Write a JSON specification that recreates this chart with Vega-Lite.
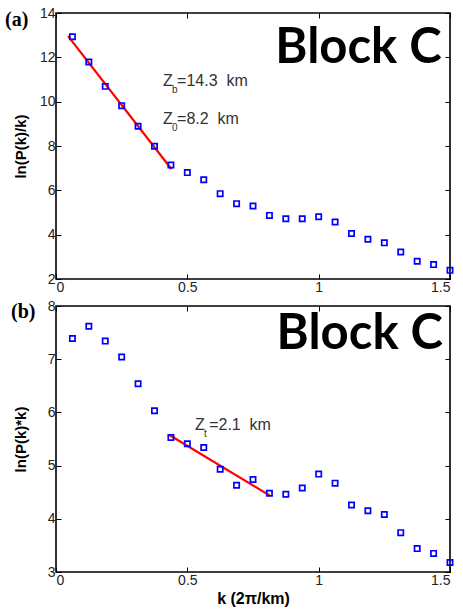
{
  "$schema": "https://vega.github.io/schema/vega-lite/v6.json",
  "padding": {"left": 4, "top": 5, "right": 3, "bottom": 4},
  "background": "white",
  "datasets": {
    "a_pts": [
      {"k": 0.0625, "v": 12.93}, {"k": 0.125, "v": 11.79}, {"k": 0.1875, "v": 10.69}, {"k": 0.25, "v": 9.82},
      {"k": 0.3125, "v": 8.89}, {"k": 0.375, "v": 7.99}, {"k": 0.4375, "v": 7.14}, {"k": 0.5, "v": 6.80},
      {"k": 0.5625, "v": 6.48}, {"k": 0.625, "v": 5.85}, {"k": 0.6875, "v": 5.40}, {"k": 0.75, "v": 5.29},
      {"k": 0.8125, "v": 4.87}, {"k": 0.875, "v": 4.72}, {"k": 0.9375, "v": 4.72}, {"k": 1.0, "v": 4.81},
      {"k": 1.0625, "v": 4.57}, {"k": 1.125, "v": 4.05}, {"k": 1.1875, "v": 3.79}, {"k": 1.25, "v": 3.63},
      {"k": 1.3125, "v": 3.22}, {"k": 1.375, "v": 2.80}, {"k": 1.4375, "v": 2.65}, {"k": 1.5, "v": 2.39}
    ],
    "a_fit": [{"k": 0.046, "v": 12.96}, {"k": 0.44, "v": 6.95}],
    "b_pts": [
      {"k": 0.0625, "v": 7.39}, {"k": 0.125, "v": 7.62}, {"k": 0.1875, "v": 7.34}, {"k": 0.25, "v": 7.04},
      {"k": 0.3125, "v": 6.54}, {"k": 0.375, "v": 6.03}, {"k": 0.4375, "v": 5.53}, {"k": 0.5, "v": 5.41},
      {"k": 0.5625, "v": 5.34}, {"k": 0.625, "v": 4.93}, {"k": 0.6875, "v": 4.63}, {"k": 0.75, "v": 4.74},
      {"k": 0.8125, "v": 4.48}, {"k": 0.875, "v": 4.46}, {"k": 0.9375, "v": 4.58}, {"k": 1.0, "v": 4.84},
      {"k": 1.0625, "v": 4.67}, {"k": 1.125, "v": 4.26}, {"k": 1.1875, "v": 4.15}, {"k": 1.25, "v": 4.08},
      {"k": 1.3125, "v": 3.74}, {"k": 1.375, "v": 3.44}, {"k": 1.4375, "v": 3.35}, {"k": 1.5, "v": 3.18}
    ],
    "b_fit": [{"k": 0.43, "v": 5.58}, {"k": 0.813, "v": 4.44}],
    "a_z": [
      {"k": 0.407, "v": 10.71, "t": "Z"}, {"k": 0.461, "v": 10.71, "t": "=14.3\u00a0 km"},
      {"k": 0.407, "v": 8.99, "t": "Z"}, {"k": 0.461, "v": 8.99, "t": "=8.2\u00a0 km"}
    ],
    "a_sub": [{"k": 0.442, "v": 10.39, "t": "b"}, {"k": 0.442, "v": 8.68, "t": "0"}],
    "b_z": [{"k": 0.529, "v": 5.67, "t": "Z"}, {"k": 0.583, "v": 5.67, "t": "=2.1\u00a0 km"}],
    "b_sub": [{"k": 0.563, "v": 5.54, "t": "t"}],
    "a_blk": [{"k": 1.468, "v": 11.74, "t": "Block C"}],
    "b_blk": [{"k": 1.473, "v": 7.19, "t": "Block C"}],
    "a_lab": [{"k": -0.194, "v": 13.41, "t": "(a)"}],
    "b_lab": [{"k": -0.171, "v": 7.77, "t": "(b)"}]
  },
  "vconcat": [
    {
      "width": 394,
      "height": 266,
      "layer": [
        {
          "data": {"name": "a_fit"},
          "mark": {"type": "line", "color": "#ff0000", "strokeWidth": 2.2},
          "encoding": {
            "x": {"field": "k", "type": "quantitative", "scale": {"domain": [0, 1.5], "nice": false, "zero": false},
                  "axis": {"orient": "top", "values": [0, 0.5, 1, 1.5], "labels": false, "title": null}},
            "y": {"field": "v", "type": "quantitative", "scale": {"domain": [2, 14], "nice": false, "zero": false},
                  "axis": {"orient": "right", "values": [2, 4, 6, 8, 10, 12, 14], "labels": false, "title": null}}
          }
        },
        {
          "data": {"name": "a_pts"},
          "mark": {"type": "point", "shape": "square", "filled": false, "stroke": "#0000ff", "strokeWidth": 1.7, "size": 28, "opacity": 1},
          "encoding": {
            "x": {"field": "k", "type": "quantitative",
                  "axis": {"orient": "bottom", "values": [0, 0.5, 1, 1.5], "format": "~g", "title": null}},
            "y": {"field": "v", "type": "quantitative",
                  "axis": {"orient": "left", "values": [2, 4, 6, 8, 10, 12, 14], "title": "ln(P(k)/k)",
                           "titleX": -36, "titleAngle": -90, "titleBaseline": "middle", "titleAlign": "center"}}
          }
        },
        {
          "data": {"name": "a_z"},
          "mark": {"type": "text", "align": "left", "baseline": "alphabetic", "font": "Liberation Sans", "fontSize": 16, "color": "#333333"},
          "encoding": {"x": {"field": "k", "type": "quantitative", "axis": null}, "y": {"field": "v", "type": "quantitative", "axis": null}, "text": {"field": "t"}}
        },
        {
          "data": {"name": "a_sub"},
          "mark": {"type": "text", "align": "left", "baseline": "alphabetic", "font": "Liberation Sans", "fontSize": 10, "color": "#333333"},
          "encoding": {"x": {"field": "k", "type": "quantitative", "axis": null}, "y": {"field": "v", "type": "quantitative", "axis": null}, "text": {"field": "t"}}
        },
        {
          "data": {"name": "a_blk"},
          "mark": {"type": "text", "align": "right", "baseline": "alphabetic", "font": "Lato", "fontWeight": "bold", "fontSize": 49, "color": "#000000"},
          "encoding": {"x": {"field": "k", "type": "quantitative", "axis": null}, "y": {"field": "v", "type": "quantitative", "axis": null}, "text": {"field": "t"}}
        },
        {
          "data": {"name": "a_lab"},
          "mark": {"type": "text", "align": "left", "baseline": "alphabetic", "font": "Liberation Serif", "fontWeight": "bold", "fontSize": 20, "color": "#000000", "clip": false},
          "encoding": {"x": {"field": "k", "type": "quantitative", "axis": null}, "y": {"field": "v", "type": "quantitative", "axis": null}, "text": {"field": "t"}}
        }
      ],
      "resolve": {"axis": {"x": "independent", "y": "independent"}}
    },
    {
      "width": 394,
      "height": 266,
      "layer": [
        {
          "data": {"name": "b_fit"},
          "mark": {"type": "line", "color": "#ff0000", "strokeWidth": 2.2},
          "encoding": {
            "x": {"field": "k", "type": "quantitative", "scale": {"domain": [0, 1.5], "nice": false, "zero": false},
                  "axis": {"orient": "top", "values": [0, 0.5, 1, 1.5], "labels": false, "title": null}},
            "y": {"field": "v", "type": "quantitative", "scale": {"domain": [3, 8], "nice": false, "zero": false},
                  "axis": {"orient": "right", "values": [3, 4, 5, 6, 7, 8], "labels": false, "title": null}}
          }
        },
        {
          "data": {"name": "b_pts"},
          "mark": {"type": "point", "shape": "square", "filled": false, "stroke": "#0000ff", "strokeWidth": 1.7, "size": 28, "opacity": 1},
          "encoding": {
            "x": {"field": "k", "type": "quantitative",
                  "axis": {"orient": "bottom", "values": [0, 0.5, 1, 1.5], "format": "~g", "title": "k (2π/km)",
                           "titleY": 31, "titleBaseline": "alphabetic", "titleFontSize": 16}},
            "y": {"field": "v", "type": "quantitative",
                  "axis": {"orient": "left", "values": [3, 4, 5, 6, 7, 8], "title": "ln(P(k)*k)",
                           "titleX": -36, "titleAngle": -90, "titleBaseline": "middle", "titleAlign": "center"}}
          }
        },
        {
          "data": {"name": "b_z"},
          "mark": {"type": "text", "align": "left", "baseline": "alphabetic", "font": "Liberation Sans", "fontSize": 16, "color": "#333333"},
          "encoding": {"x": {"field": "k", "type": "quantitative", "axis": null}, "y": {"field": "v", "type": "quantitative", "axis": null}, "text": {"field": "t"}}
        },
        {
          "data": {"name": "b_sub"},
          "mark": {"type": "text", "align": "left", "baseline": "alphabetic", "font": "Liberation Sans", "fontSize": 10, "color": "#333333"},
          "encoding": {"x": {"field": "k", "type": "quantitative", "axis": null}, "y": {"field": "v", "type": "quantitative", "axis": null}, "text": {"field": "t"}}
        },
        {
          "data": {"name": "b_blk"},
          "mark": {"type": "text", "align": "right", "baseline": "alphabetic", "font": "Lato", "fontWeight": "bold", "fontSize": 49, "color": "#000000"},
          "encoding": {"x": {"field": "k", "type": "quantitative", "axis": null}, "y": {"field": "v", "type": "quantitative", "axis": null}, "text": {"field": "t"}}
        },
        {
          "data": {"name": "b_lab"},
          "mark": {"type": "text", "align": "left", "baseline": "alphabetic", "font": "Liberation Serif", "fontWeight": "bold", "fontSize": 20, "color": "#000000", "clip": false},
          "encoding": {"x": {"field": "k", "type": "quantitative", "axis": null}, "y": {"field": "v", "type": "quantitative", "axis": null}, "text": {"field": "t"}}
        }
      ],
      "resolve": {"axis": {"x": "independent", "y": "independent"}}
    }
  ],
  "spacing": 27,
  "bounds": "flush",
  "config": {
    "font": "Liberation Sans",
    "view": {"stroke": "#000000", "strokeWidth": 1.6},
    "axis": {
      "domain": false,
      "grid": false,
      "ticks": true,
      "tickSize": -5,
      "tickColor": "#000000",
      "tickWidth": 1,
      "labelFont": "Liberation Sans",
      "labelFontSize": 14,
      "labelColor": "#222222",
      "labelPadding": 6,
      "titleFont": "Liberation Sans",
      "titleFontSize": 15,
      "titleFontWeight": "bold",
      "titleColor": "#000000"
    }
  }
}
